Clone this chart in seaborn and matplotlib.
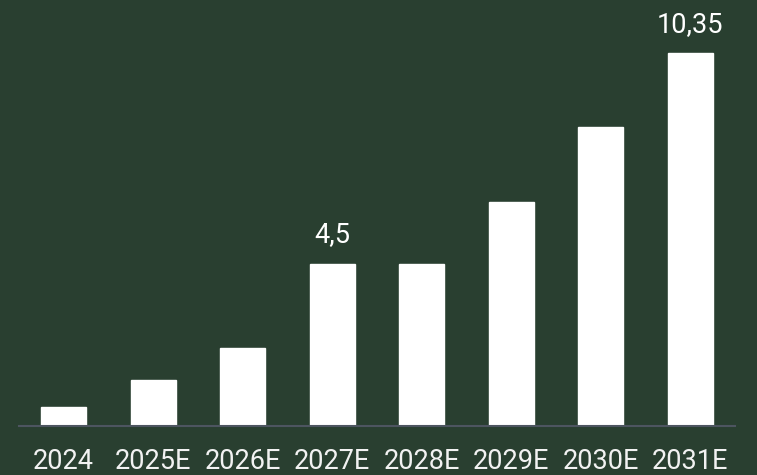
import pandas as pd
import seaborn as sns
import matplotlib.pyplot as plt

years = ['2024', '2025E', '2026E', '2027E', '2028E', '2029E', '2030E', '2031E']
values = [0.52, 1.27, 2.15, 4.5, 4.5, 6.2, 8.3, 10.35]
labels = {'2027E': '4,5', '2031E': '10,35'}

bg = '#293f30'

df = pd.DataFrame({'year': years, 'value': values})

sns.set_style('white')
plt.rcParams['font.family'] = ['Roboto', 'DejaVu Sans']

fig = plt.figure(figsize=(7.57, 4.75), dpi=100, facecolor=bg)
ax = fig.add_axes([0.0251, 0.1042, 0.9458, 0.8958])
ax.set_facecolor(bg)

sns.barplot(data=df, x='year', y='value', color='white', width=0.5,
            saturation=1, ax=ax)

for p, yr in zip(ax.patches, years):
    if yr in labels:
        ax.annotate(labels[yr], (p.get_x() + p.get_width() / 2, p.get_height()),
                    xytext=(0, 11), textcoords='offset points',
                    ha='center', va='bottom', color='white', fontsize=19.5)

ax.set_ylim(0, 11.82)
ax.set_xlim(-0.5, 7.5)
ax.set_xlabel('')
ax.set_ylabel('')
ax.set_yticks([])
for s in ['top', 'right', 'left']:
    ax.spines[s].set_visible(False)
ax.spines['bottom'].set_color('#4d5560')
ax.spines['bottom'].set_linewidth(1.5)
ax.tick_params(axis='x', length=0, pad=16.5, labelsize=19.5, labelcolor='#f2f2f2')

fig.savefig('out.png', dpi=100, facecolor=bg)
